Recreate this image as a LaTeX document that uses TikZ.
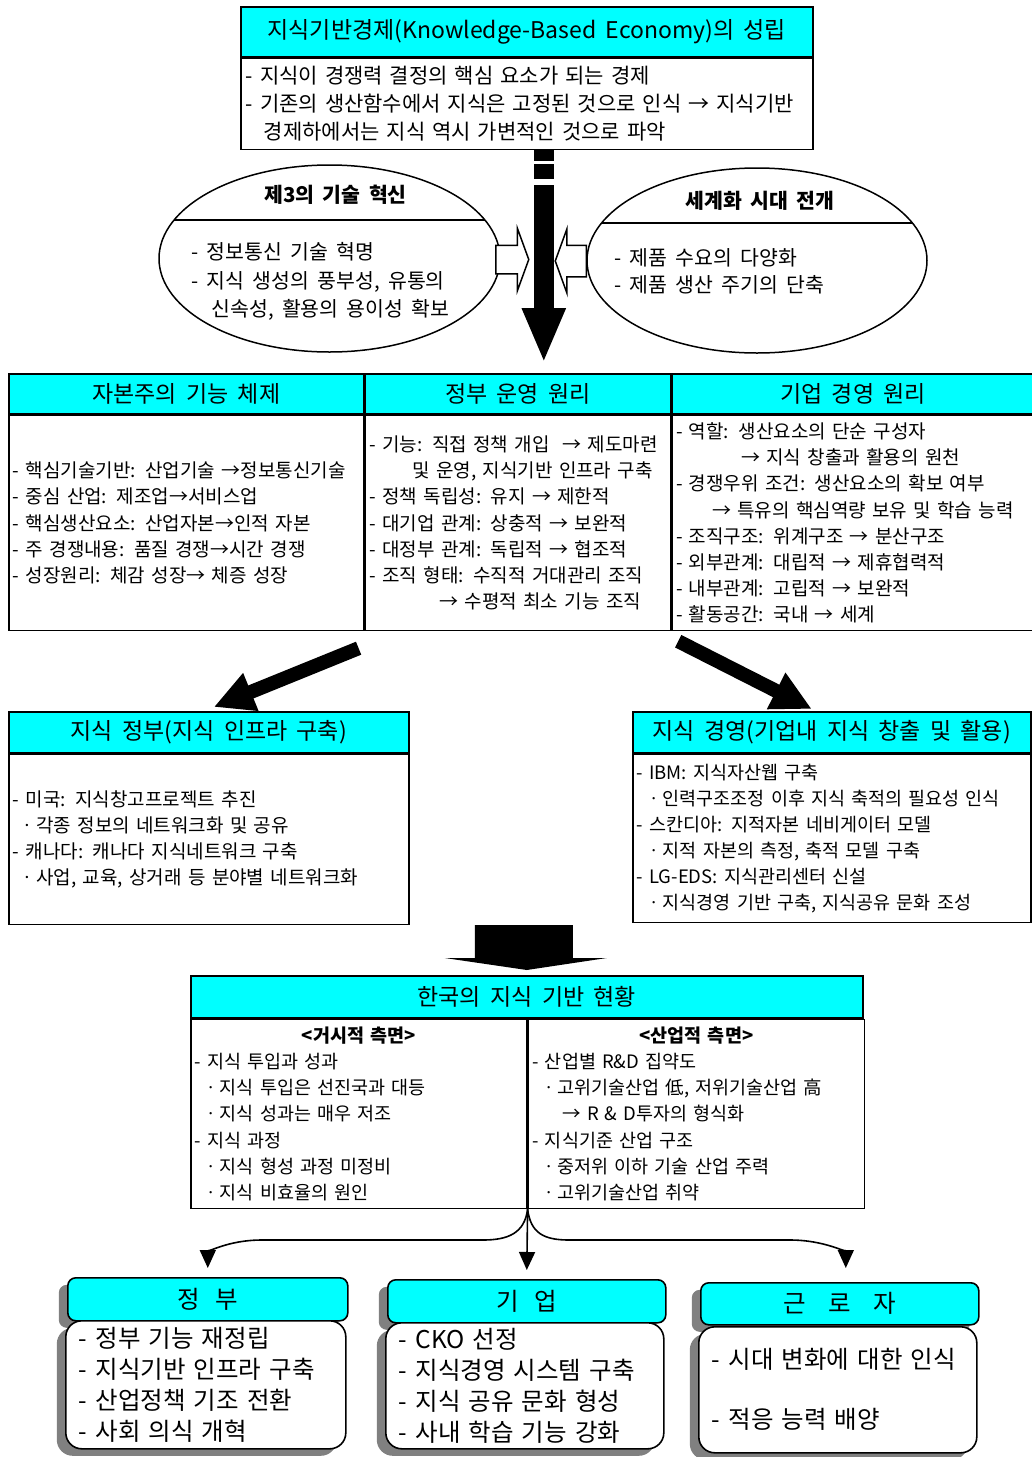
\documentclass[tikz,border=0pt]{standalone}
\usepackage{fontspec}
\setmainfont[WordSpace=1.8]{Noto Sans CJK KR}
\usepackage{tikz}
\usetikzlibrary{arrows.meta,calc,shapes.geometric,shapes.arrows,shadows}
\usepackage{xcolor}
\definecolor{bandcyan}{HTML}{00FFFF}
\definecolor{shadowgray}{HTML}{808080}
\newcommand{\headfont}{\fontsize{23}{26}\selectfont}
\newcommand{\tblfont}{\fontsize{19}{26.2}\selectfont}
\newcommand{\ovalfont}{\fontsize{20.5}{28.5}\selectfont}
\newcommand{\roundfont}{\fontsize{24.5}{31}\selectfont}
\tikzstyle{bandtitle} = [draw=black, line width=1.6pt, fill=bandcyan, inner sep=0pt, anchor=north west, font=\headfont]
\tikzstyle{panel} = [draw=black, line width=1.6pt, fill=white, inner xsep=4pt, inner ysep=0pt, anchor=north west, align=left, font=\tblfont]
\tikzstyle{ovalbox} = [ellipse, draw=black, line width=1.5pt, fill=white, inner sep=0pt]
\tikzstyle{hollowarrow} = [single arrow, draw=black, line width=1.5pt, fill=white, inner xsep=0pt, anchor=tail, single arrow tip angle=140]
\tikzstyle{bigarrow} = [line width=20pt, -{Triangle[width=40pt,length=55pt]}, dash pattern=on 11pt off 3pt on 15pt off 6pt on 600pt]
\tikzstyle{slantarrow} = [line width=14pt, -{Triangle[width=38pt,length=40pt]}]
\tikzstyle{fanarrow} = [line width=1.6pt, -{Triangle[width=16pt,length=18pt]}]
\tikzstyle{roundtitle} = [draw=black, line width=1.6pt, fill=bandcyan, rounded corners=8pt, inner sep=0pt, anchor=north west, font=\roundfont, drop shadow={shadow xshift=-9pt, shadow yshift=-7pt, fill=shadowgray, opacity=1}]
\tikzstyle{roundpanel} = [draw=black, line width=1.6pt, fill=white, rounded corners=16pt, inner xsep=13pt, inner ysep=0pt, anchor=north west, align=left, font=\roundfont, drop shadow={shadow xshift=-9pt, shadow yshift=-7pt, fill=shadowgray, opacity=1}]

\begin{document}
\begin{tikzpicture}[x=1pt,y=-1pt]
\useasboundingbox (0,0) rectangle (1032,1457);

\node[bandtitle, minimum width=572pt, minimum height=50pt] (kbetitle) at (240,6) {지식기반경제(Knowledge-Based Economy)의 성립};
\node[panel, minimum width=572pt, minimum height=91pt, text width=562pt, inner xsep=5pt, font=\fontsize{21}{28}\selectfont] (kbebody) at (kbetitle.south west) {%
- 지식이 경쟁력 결정의 핵심 요소가 되는 경제\\
\mbox{- 기존의 생산함수에서 지식은 고정된 것으로 인식 → 지식기반}\\
\hspace*{18pt}경제하에서는 지식 역시 가변적인 것으로 파악};

\node[ovalbox, minimum width=341pt, minimum height=187pt, path picture={\draw[line width=1.5pt] ([yshift=-55pt]path picture bounding box.north west) -- ([yshift=-55pt]path picture bounding box.north east);}] (techoval) at (329.5,258.5) {};
\node[font=\ovalfont\bfseries] (techtitle) at ($(techoval.north)+(6,31)$) {제3의 기술 혁신};
\node[align=left, anchor=west, font=\ovalfont] (techtext) at (188,281.5) {%
- 정보통신 기술 혁명\\
- 지식 생성의 풍부성, 유통의\\
\hspace*{20pt}신속성, 활용의 용이성 확보};

\node[ovalbox, minimum width=340pt, minimum height=185pt, path picture={\draw[line width=1.5pt] ([yshift=-55pt]path picture bounding box.north west) -- ([yshift=-55pt]path picture bounding box.north east);}] (globaloval) at (757,260.5) {};
\node[font=\ovalfont\bfseries] (globaltitle) at ($(globaloval.north)+(3,34)$) {세계화 시대 전개};
\node[align=left, anchor=west, font=\fontsize{20.5}{27}\selectfont] (globaltext) at (611,271.5) {%
- 제품 수요의 다양화\\
- 제품 생산 주기의 단축};

\node[hollowarrow, inner ysep=13.5pt, single arrow head extend=17pt, minimum height=33pt] (techpush) at (495,259.5) {};
\node[hollowarrow, shape border rotate=180, inner ysep=15pt, single arrow head extend=16.5pt, minimum height=31pt] (globalpush) at (587,261) {};

\node[bandtitle, minimum width=355pt, minimum height=40pt] (captitle) at (8,373) {자본주의 기능 체제};
\node[panel, minimum width=355pt, minimum height=215pt, text width=347pt] (capbody) at (captitle.south west) {%
\mbox{- 핵심기술기반: 산업기술 →정보통신기술}\\
- 중심 산업: 제조업→서비스업\\
- 핵심생산요소: 산업자본→인적 자본\\
- 주 경쟁내용: 품질 경쟁→시간 경쟁\\
- 성장원리: 체감 성장→ 체증 성장};
\node[bandtitle, minimum width=305pt, minimum height=40pt] (statetitle) at (captitle.north east) {정부 운영 원리};
\node[panel, minimum width=305pt, minimum height=215pt, text width=297pt] (statebody) at (statetitle.south west) {%
\mbox{- 기능: 직접 정책 개입 \ → 제도마련}\\
\mbox{\hspace*{43pt}및 운영, 지식기반 인프라 구축}\\
- 정책 독립성: 유지 → 제한적\\
- 대기업 관계: 상충적 → 보완적\\
- 대정부 관계: 독립적 → 협조적\\
- 조직 형태: 수직적 거대관리 조직\\
\hspace*{70pt}→ 수평적 최소 기능 조직};
\node[bandtitle, minimum width=362pt, minimum height=40pt] (firmtitle) at (statetitle.north east) {기업 경영 원리};
\node[panel, minimum width=362pt, minimum height=215pt, text width=354pt] (firmbody) at (firmtitle.south west) {%
- 역할: 생산요소의 단순 구성자\\
\hspace*{65pt}→ 지식 창출과 활용의 원천\\
- 경쟁우위 조건: 생산요소의 확보 여부\\
\mbox{\hspace*{36pt}→ 특유의 핵심역량 보유 및 학습 능력}\\
- 조직구조: 위계구조 → 분산구조\\
- 외부관계: 대립적 → 제휴협력적\\
- 내부관계: 고립적 → 보완적\\
- 활동공간: 국내 → 세계};

\draw[bigarrow] ($(kbebody.south)+(17,0)$) -- ($(kbebody.south |- statetitle.north)+(17,-10)$);

\node[bandtitle, minimum width=400pt, minimum height=41pt] (kgovtitle) at (8,711) {지식 정부(지식 인프라 구축)};
\node[panel, minimum width=400pt, minimum height=170pt, text width=392pt] (kgovbody) at (kgovtitle.south west) {%
- 미국: 지식창고프로젝트 추진\\
\hspace*{6pt}ㆍ각종 정보의 네트워크화 및 공유\\
- 캐나다: 캐나다 지식네트워크 구축\\
\hspace*{6pt}ㆍ사업, 교육, 상거래 등 분야별 네트워크화};
\node[bandtitle, minimum width=398pt, minimum height=41pt] (kmantitle) at (632,711) {지식 경영(기업내 지식 창출 및 활용)};
\node[panel, minimum width=398pt, minimum height=168pt, text width=390pt, font=\fontsize{18.5}{26}\selectfont] (kmanbody) at (kmantitle.south west) {%
- IBM: 지식자산웹 구축\\
\hspace*{9pt}ㆍ인력구조조정 이후 지식 축적의 필요성 인식\\
- 스칸디아: 지적자본 네비게이터 모델\\
\hspace*{9pt}ㆍ지적 자본의 측정, 축적 모델 구축\\
- LG-EDS: 지식관리센터 신설\\
\hspace*{9pt}ㆍ지식경영 기반 구축, 지식공유 문화 조성};

\draw[slantarrow] ($(capbody.south east)+(-6,17)$) -- ($(kgovtitle.north)+(5,-4)$);
\draw[slantarrow] ($(firmbody.south west)+(7,10)$) -- ($(kmantitle.north)+(-20,-2)$);

\node[bandtitle, minimum width=672pt, minimum height=42pt] (kortitle) at (190,975) {한국의 지식 기반 현황};
\node[panel, minimum width=336pt, minimum height=189pt, text width=328pt, font=\fontsize{18.5}{26.2}\selectfont] (macrobody) at (kortitle.south west) {%
\makebox[\linewidth][c]{\bfseries <거시적 측면>}\\
- 지식 투입과 성과\\
\hspace*{8pt}ㆍ지식 투입은 선진국과 대등\\
\hspace*{8pt}ㆍ지식 성과는 매우 저조\\
- 지식 과정\\
\hspace*{8pt}ㆍ지식 형성 과정 미정비\\
\hspace*{8pt}ㆍ지식 비효율의 원인};
\node[panel, minimum width=336pt, minimum height=189pt, text width=328pt, font=\fontsize{18.5}{26.2}\selectfont] (industrybody) at (macrobody.north east) {%
\makebox[\linewidth][c]{\bfseries <산업적 측면>}\\
- 산업별 R\&D 집약도\\
\hspace*{8pt}ㆍ고위기술산업 低, 저위기술산업 高\\
\hspace*{30pt}→ R \& D투자의 형식화\\
- 지식기준 산업 구조\\
\hspace*{8pt}ㆍ중저위 이하 기술 산업 주력\\
\hspace*{8pt}ㆍ고위기술산업 취약};

\fill[black] ($(kortitle.north)+(0,-5)$) -- ++(-82,-12) -- ++(30,0) -- ++(0,-33) -- ++(98,0) -- ++(0,33) -- ++(34,0) -- cycle;

\node[roundtitle, minimum width=280pt, minimum height=43pt] (govtitle) at (67,1277) {정\hspace{0.6em}부};
\node[roundpanel, minimum width=280pt, minimum height=128pt, text width=254pt] (govbody) at (65,1320) {%
- 정부 기능 재정립\\
- 지식기반 인프라 구축\\
- 산업정책 기조 전환\\
- 사회 의식 개혁};
\node[roundtitle, minimum width=278pt, minimum height=43pt] (biztitle) at (387,1279) {기\hspace{0.6em}업};
\node[roundpanel, minimum width=278pt, minimum height=126pt, text width=252pt] (bizbody) at (385,1322) {%
- CKO 선정\\
\mbox{- 지식경영 시스템 구축}\\
- 지식 공유 문화 형성\\
- 사내 학습 기능 강화};
\node[roundtitle, minimum width=278pt, minimum height=42pt] (labortitle) at (700,1282) {근\hspace{0.9em}로\hspace{0.9em}자};
\node[roundpanel, minimum width=278pt, minimum height=126pt, text width=252pt] (laborbody) at (698,1326) {%
\mbox{- 시대 변화에 대한 인식}\\[29pt]
- 적응 능력 배양};

\coordinate (fanleft) at (483,1240);
\coordinate (fanleftend) at (262,1240);
\coordinate (fanright) at (569,1240);
\coordinate (fanrightend) at (790,1240);
\draw[fanarrow] (macrobody.south east) .. controls +(-3,24) and +(25,0) .. (fanleft) -- (fanleftend) .. controls +(-35,0) and +(0,-15) .. ($(govtitle.north)+(0,-9)$);
\draw[fanarrow] (macrobody.south east) -- ($(biztitle.north)+(0,-9)$);
\draw[fanarrow] (macrobody.south east) .. controls +(3,24) and +(-25,0) .. (fanright) -- (fanrightend) .. controls +(35,0) and +(0,-15) .. ($(labortitle.north)+(6,-14)$);
\end{tikzpicture}
\end{document}
